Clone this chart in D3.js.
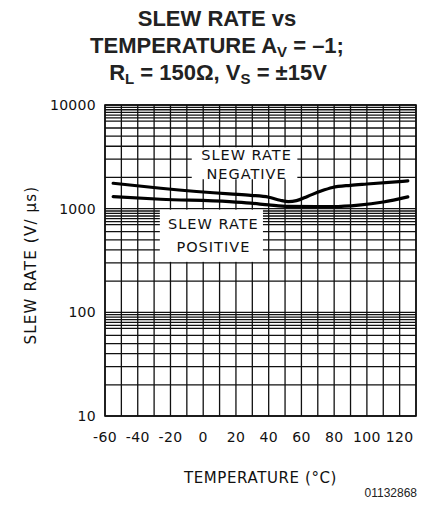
<!DOCTYPE html>
<html><head><meta charset="utf-8">
<script src="https://cdn.jsdelivr.net/npm/d3@7"></script>
<style>body{margin:0;background:#fff}svg{display:block}</style>
</head><body>
<svg id="c" width="429" height="512"></svg>
<script>
// ---- data ----
const negTemp = [-55, -26, 16, 29, 40, 47, 52, 57, 64, 72, 79, 90, 100, 125];
const negRate = [1758, 1574, 1386, 1345, 1290, 1205, 1170, 1195, 1320, 1480, 1600, 1680, 1730, 1850];
const posTemp = [-55, -26, 16, 29, 40, 52, 79, 95, 110, 125];
const posRate = [1306, 1233, 1169, 1130, 1086, 1050, 1045, 1080, 1160, 1300];
const xTickLabels = [-60, -40, -20, 0, 20, 40, 60, 80, 100, 120];
const yTickLabels = [10, 100, 1000, 10000];
const minorMult = [1, 2, 3, 4, 5, 6, 7, 7.5, 8, 8.5, 9, 9.5];
const decades = [10, 100, 1000];
const titleLines = ["SLEW RATE vs", "TEMPERATURE A", "R"];

// ---- layout ----
const svg = d3.select("#c");
const L = 105, R = 416, T = 105, B = 416;
const x = d3.scaleLinear().domain([-60, 130]).range([L, R]);
const y = d3.scaleLog().domain([10, 10000]).range([B, T]);

// grid
const xGrid = d3.range(-60, 131, 10);
const yGrid = [];
decades.forEach(d => minorMult.forEach(m => yGrid.push(d * m)));
yGrid.push(10000);

const g = svg.append("g");
g.selectAll("line.v").data(xGrid).join("line")
  .attr("x1", d => x(d)).attr("x2", d => x(d))
  .attr("y1", T).attr("y2", B)
  .attr("stroke", "#111").attr("stroke-width", 1.3);
g.selectAll("line.h").data(yGrid).join("line")
  .attr("x1", L).attr("x2", R)
  .attr("y1", d => y(d)).attr("y2", d => y(d))
  .attr("stroke", "#111").attr("stroke-width", 1.3);

// label boxes (white knock-outs)
const boxes = [
  {x0: -7, x1: 57.5, v0: 4000, v1: 1880, l1: "SLEW RATE", l2: "NEGATIVE", ty1: 3300, ty2: 2150},
  {x0: -26.5, x1: 36.5, v0: 1000, v1: 300, l1: "SLEW RATE", l2: "POSITIVE", ty1: 720, ty2: 430}
];
boxes.forEach(b => {
  g.append("rect")
    .attr("x", x(b.x0)).attr("width", x(b.x1) - x(b.x0))
    .attr("y", y(b.v0) + 1).attr("height", y(b.v1) - y(b.v0) - 2)
    .attr("fill", "#fff");
  const cx = (x(b.x0) + x(b.x1)) / 2 + 2;
  [[b.l1, b.ty1], [b.l2, b.ty2]].forEach(([t, v]) => {
    g.append("text").text(t)
      .attr("x", cx).attr("y", y(v)).attr("dy", "0.36em")
      .attr("text-anchor", "middle")
      .attr("font-family", "DejaVu Sans").attr("font-size", 14.5)
      .attr("letter-spacing", 1)
      .attr("fill", "#111");
  });
});

// frame
g.append("rect").attr("x", L).attr("y", T).attr("width", R - L).attr("height", B - T)
  .attr("fill", "none").attr("stroke", "#111").attr("stroke-width", 1.6);

// curves
const line = d3.line().x(d => x(d[0])).y(d => y(d[1])).curve(d3.curveMonotoneX);
[[negTemp, negRate], [posTemp, posRate]].forEach(([tt, rr]) => {
  g.append("path").datum(tt.map((t, i) => [t, rr[i]]))
    .attr("d", line).attr("fill", "none")
    .attr("stroke", "#000").attr("stroke-width", 3.2)
    .attr("stroke-linecap", "round").attr("stroke-linejoin", "round");
});

// axes labels
const tickFont = {family: "DejaVu Sans", size: 14};
svg.append("g").selectAll("text").data(yTickLabels).join("text")
  .text(d => d).attr("x", 96).attr("y", d => y(d)).attr("dy", "0.36em")
  .attr("text-anchor", "end").attr("font-family", tickFont.family)
  .attr("font-size", tickFont.size).attr("letter-spacing", 0.3).attr("fill", "#111");
svg.append("g").selectAll("text").data(xTickLabels).join("text")
  .text(d => (d < 0 ? "-" + Math.abs(d) : d)).attr("x", d => x(d)).attr("y", 442)
  .attr("text-anchor", "middle").attr("font-family", tickFont.family)
  .attr("font-size", tickFont.size).attr("letter-spacing", 0.3).attr("fill", "#111");

svg.append("text").text("TEMPERATURE (°C)")
  .attr("x", (L + R) / 2).attr("y", 483).attr("text-anchor", "middle")
  .attr("font-family", "DejaVu Sans").attr("font-size", 15).attr("letter-spacing", 0.6)
  .attr("fill", "#111");
svg.append("text").text("SLEW RATE (V/ μs)")
  .attr("transform", "translate(36,265) rotate(-90)").attr("text-anchor", "middle")
  .attr("font-family", "DejaVu Sans").attr("font-size", 15).attr("letter-spacing", 1.2)
  .attr("fill", "#111");

svg.append("text").text("01132868")
  .attr("x", 417).attr("y", 497).attr("text-anchor", "end")
  .attr("font-family", "Liberation Sans, Arial").attr("font-size", 12).attr("fill", "#222");

// title
const tf = "Liberation Sans, Arial, sans-serif";
const title = svg.append("g").attr("font-family", tf).attr("font-weight", "bold")
  .attr("font-size", 22).attr("fill", "#222").attr("text-anchor", "middle");
title.append("text").attr("x", 217).attr("y", 26).text(titleLines[0]);
const t2 = title.append("text").attr("x", 217).attr("y", 53);
t2.append("tspan").text(titleLines[1]);
t2.append("tspan").text("V").attr("font-size", 15).attr("dy", 4);
t2.append("tspan").text(" = \u20131;").attr("dy", -4);
const t3 = title.append("text").attr("x", 218).attr("y", 80);
t3.append("tspan").text(titleLines[2]);
t3.append("tspan").text("L").attr("font-size", 15).attr("dy", 4);
t3.append("tspan").text(" = 150\u03A9, V").attr("dy", -4);
t3.append("tspan").text("S").attr("font-size", 15).attr("dy", 4);
t3.append("tspan").text(" = \u00B115V").attr("dy", -4);
</script>
</body></html>
